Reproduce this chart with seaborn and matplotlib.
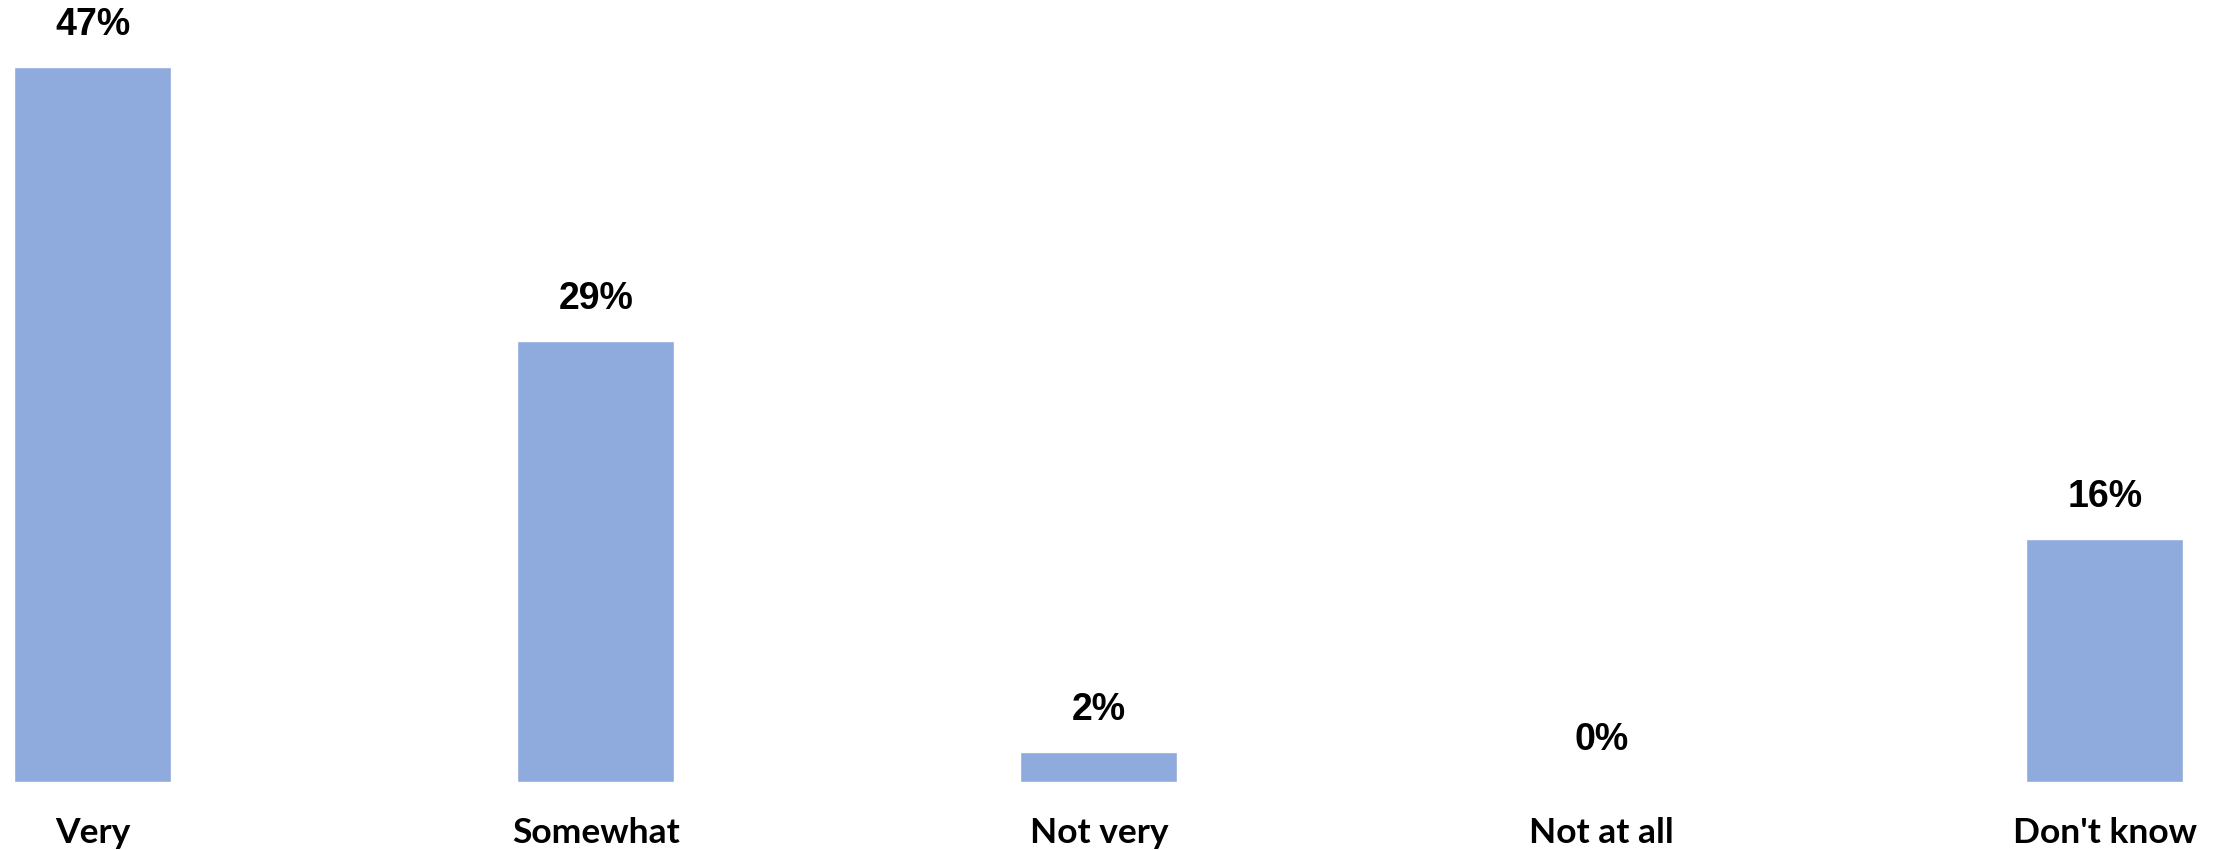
import matplotlib
matplotlib.use("Agg")
import matplotlib.pyplot as plt
import seaborn as sns
import pandas as pd

categories = ["Very", "Somewhat", "Not very", "Not at all", "Don't know"]
values = [47, 29, 2, 0, 16]
value_labels = ["47%", "29%", "2%", "0%", "16%"]

df = pd.DataFrame({"cat": categories, "val": values})

sns.set_theme(style="white")
plt.rcParams['font.family'] = ['Liberation Sans', 'DejaVu Sans']

fig = plt.figure(figsize=(22.21, 8.5), dpi=100)
ax = fig.add_axes([0, 68/850, 1, 1 - 68/850])

sns.barplot(data=df, x="cat", y="val", color="#8FAADC", saturation=1,
            width=0.312, ax=ax)

ax.set_xlim(-0.1845, 4.231)
ax.set_ylim(0, 782/15.21)

for i, (v, lab) in enumerate(zip(values, value_labels)):
    ax.annotate(lab, (i, v), xytext=(0, 42), textcoords="offset pixels",
                ha="center", va="center", fontsize=27, fontweight="bold",
                family=['Liberation Sans', 'DejaVu Sans'], color="black")

ax.set_xlabel("")
ax.set_ylabel("")
ax.set_yticks([])
ax.tick_params(axis="x", length=0, pad=25)
for t in ax.get_xticklabels():
    t.set_fontsize(25.5)
    t.set_fontweight("bold")
    t.set_family(['Lato', 'DejaVu Sans'])
    t.set_color("black")
for s in ax.spines.values():
    s.set_visible(False)

fig.savefig("out.png", dpi=100)
